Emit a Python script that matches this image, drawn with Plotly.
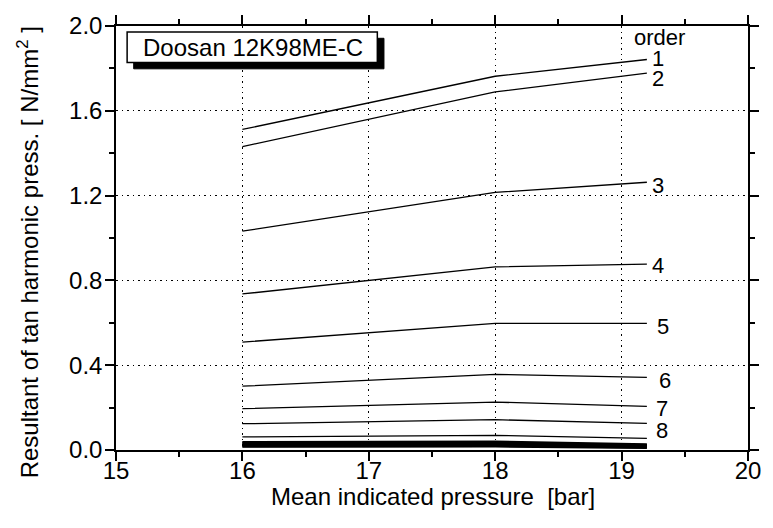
import plotly.graph_objects as go

# ---- data ----
x_pts = [16.0, 18.0, 19.2]
orders = ["1", "2", "3", "4", "5", "6", "7", "8", "9"]
vals = {
    "1": [1.512, 1.763, 1.842],
    "2": [1.431, 1.689, 1.778],
    "3": [1.032, 1.215, 1.263],
    "4": [0.736, 0.864, 0.877],
    "5": [0.509, 0.597, 0.597],
    "6": [0.301, 0.357, 0.343],
    "7": [0.195, 0.226, 0.206],
    "8": [0.124, 0.143, 0.126],
    "9": [0.062, 0.069, 0.055],
}
# higher orders merging into a thick band near zero
band_16 = [0.038, 0.034, 0.030, 0.026, 0.022, 0.018, 0.015]
band_18 = [0.040, 0.035, 0.031, 0.027, 0.023, 0.019, 0.016]
band_192 = [0.027, 0.024, 0.021, 0.018, 0.015, 0.012, 0.009]

label_text = ["order", "1", "2", "3", "4", "5", "6", "7", "8"]
label_x = [19.30, 19.29, 19.29, 19.29, 19.29, 19.33, 19.34, 19.32, 19.32]
label_y = [1.945, 1.847, 1.754, 1.246, 0.869, 0.582, 0.329, 0.195, 0.090]

title_text = "Doosan 12K98ME-C"
x_title = "Mean indicated pressure  [bar]"
y_title = "Resultant of tan harmonic press. [ N/mm<sup>2</sup> ]"

FONT = "Arial, Liberation Sans, sans-serif"
FS = 24
FS_LBL = 22

fig = go.Figure()
for o in orders:
    fig.add_trace(go.Scatter(x=x_pts, y=vals[o], mode="lines",
                             line=dict(color="black", width=1.3),
                             showlegend=False, hoverinfo="skip"))
for a, b, c in zip(band_16, band_18, band_192):
    fig.add_trace(go.Scatter(x=x_pts, y=[a, b, c], mode="lines",
                             line=dict(color="black", width=2),
                             showlegend=False, hoverinfo="skip"))

for t, lx, ly in zip(label_text, label_x, label_y):
    fig.add_annotation(x=lx, y=ly, text=t, showarrow=False,
                       xanchor="center", yanchor="middle",
                       font=dict(family=FONT, size=FS_LBL, color="black"))

# title box with shadow
fig.add_shape(type="rect", xref="paper", yref="paper",
              x0=0.028, x1=0.424, y0=0.899, y1=0.971,
              fillcolor="black", line=dict(color="black", width=1), layer="above")
fig.add_shape(type="rect", xref="paper", yref="paper",
              x0=0.0176, x1=0.4135, y0=0.914, y1=0.986,
              fillcolor="white", line=dict(color="black", width=1.5), layer="above")
fig.add_annotation(xref="paper", yref="paper", x=0.2163, y=0.950,
                   text=title_text, showarrow=False,
                   xanchor="center", yanchor="middle",
                   font=dict(family=FONT, size=FS, color="black"))

# axis titles
fig.add_annotation(xref="paper", yref="paper", x=0.502, y=-0.11,
                   text=x_title, showarrow=False, xanchor="center", yanchor="middle",
                   font=dict(family=FONT, size=FS, color="black"))
fig.add_annotation(xref="paper", yref="paper", x=-0.14, y=0.465,
                   text=y_title, showarrow=False, xanchor="center", yanchor="middle",
                   textangle=-90,
                   font=dict(family=FONT, size=FS, color="black"))

axis_common = dict(showline=True, linecolor="black", linewidth=1.5, mirror="ticks",
                   ticks="outside", ticklen=9, tickwidth=1.5, tickcolor="black",
                   showgrid=True, gridcolor="black", gridwidth=1, griddash="1.5px,4px",
                   zeroline=False,
                   tickfont=dict(family=FONT, size=FS, color="black"),
                   minor=dict(ticks="outside", ticklen=5, tickwidth=1.5,
                              tickcolor="black", showgrid=False))

fig.update_xaxes(range=[15, 20], tickvals=[15, 16, 17, 18, 19, 20],
                 minor_dtick=0.5, ticklabelstandoff=-11, **axis_common)
fig.update_yaxes(range=[0, 2.0], tickvals=[0, 0.4, 0.8, 1.2, 1.6, 2.0],
                 ticktext=["0.0", "0.4", "0.8", "1.2", "1.6", "2.0"],
                 minor_dtick=0.2, ticklabelstandoff=-2, **axis_common)

fig.update_layout(width=773, height=528,
                  margin=dict(l=116, r=14.5, t=19, b=77.5),
                  plot_bgcolor="white", paper_bgcolor="white",
                  font=dict(family=FONT, size=FS, color="black"))

fig.write_html("out.html")
